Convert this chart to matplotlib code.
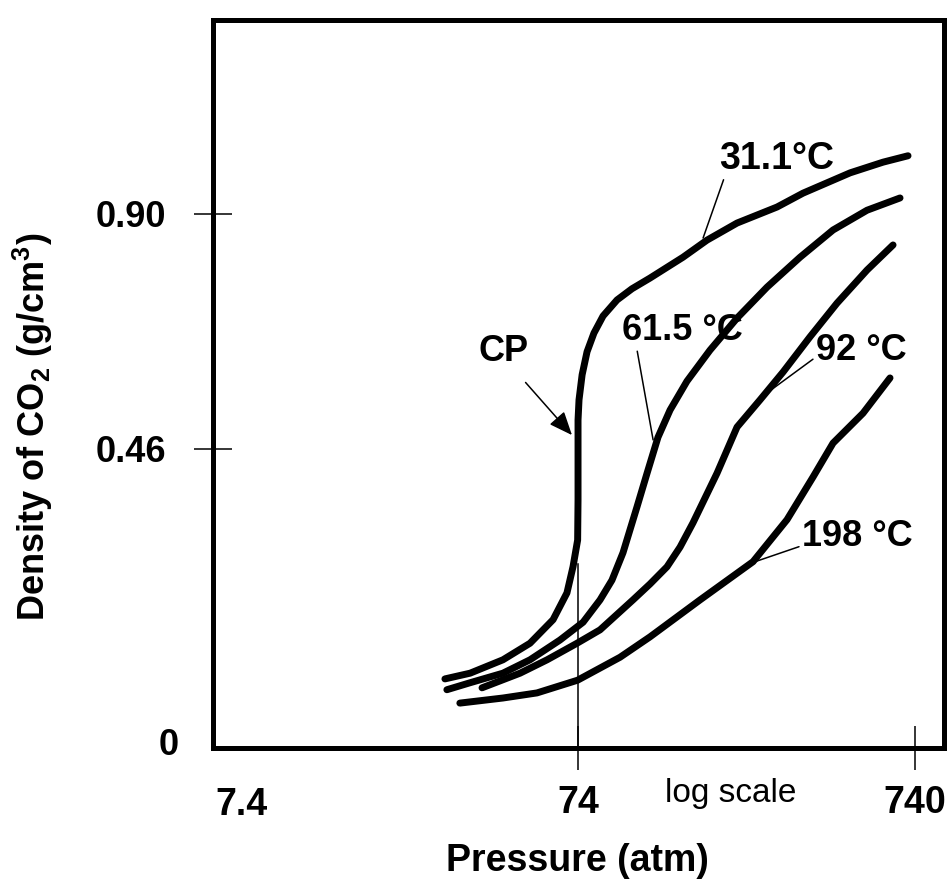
import numpy as np
import matplotlib.pyplot as plt

plt.rcParams['font.family'] = ['Liberation Sans', 'DejaVu Sans']
plt.rcParams['mathtext.fontset'] = 'custom'
plt.rcParams['mathtext.rm'] = 'Liberation Sans:bold'
plt.rcParams['mathtext.bf'] = 'Liberation Sans:bold'
plt.rcParams['mathtext.default'] = 'rm'

# isotherms: pressure (atm) and density (g/cm3)
p_311 = [29.8, 35.4, 44.3, 53.3, 62.4, 68.6, 71.5, 73.8, 74.0, 74.0, 74.0, 74.5, 76.1, 78.7,
         82.5, 87.8, 96.6, 107.0, 121.0, 151.6, 178.6, 219.3, 288.2, 344.3, 474.8, 594.6, 705.4]
d_311 = [0.099, 0.108, 0.129, 0.155, 0.192, 0.234, 0.275, 0.317, 0.380, 0.443, 0.514, 0.552, 0.599, 0.642,
         0.677, 0.709, 0.739, 0.760, 0.780, 0.819, 0.851, 0.883, 0.913, 0.939, 0.977, 0.997, 1.009]

p_615 = [30.2, 35.4, 44.3, 53.3, 65.4, 76.6, 86.0, 93.3, 100.6, 110.7, 118.6, 127.8, 138.8,
         155.8, 182.3, 219.3, 269.2, 337.3, 422.6, 533.1, 667.9]
d_615 = [0.082, 0.093, 0.108, 0.129, 0.160, 0.188, 0.223, 0.254, 0.297, 0.369, 0.422, 0.482, 0.533,
         0.587, 0.645, 0.705, 0.763, 0.819, 0.870, 0.907, 0.930]

p_92 = [38.4, 49.8, 59.9, 73.5, 86.0, 107.7, 121.0, 135.9, 148.6, 162.3, 191.3, 219.3, 256.7, 300.3,
        361.1, 434.2, 533.1, 636.8]
d_92 = [0.085, 0.108, 0.129, 0.155, 0.176, 0.223, 0.248, 0.275, 0.306, 0.344, 0.422, 0.501, 0.552, 0.604,
        0.670, 0.733, 0.795, 0.842]

p_198 = [33.0, 44.3, 55.9, 73.8, 98.6, 121.0, 170.3, 244.6, 308.6, 368.6, 422.6, 518.7, 623.7]
d_198 = [0.061, 0.069, 0.077, 0.097, 0.133, 0.165, 0.223, 0.283, 0.349, 0.416, 0.471, 0.527, 0.593]

x_ticks = [74, 740]
x_tick_labels = ['74', '740']
y_ticks = [0.46, 0.90]
y_tick_labels = ['0.46', '0.90']


# density axis is drawn stretched more below 0.46 than above it
def dens_to_h(d):
    d = np.asarray(d, dtype=float)
    return np.where(d < 0.46, 6 + d * 293 / 0.46, 299 + (d - 0.46) * 235 / 0.44)


def h_to_dens(h):
    h = np.asarray(h, dtype=float)
    return np.where(h < 299, (h - 6) * 0.46 / 293, 0.46 + (h - 299) * 0.44 / 235)


fig = plt.figure(figsize=(9.5, 8.88), dpi=100)
ax = fig.add_axes([0.2242, 0.1577, 0.7695, 0.8198])
ax.set_xscale('log')
ax.set_yscale('function', functions=(dens_to_h, h_to_dens))
ax.set_xlim(6.11, 902)
ax.set_ylim(float(h_to_dens(0)), float(h_to_dens(728)))

lw = 5
for p, d in [(p_311, d_311), (p_615, d_615), (p_92, d_92), (p_198, d_198)]:
    ax.plot(p, d, color='black', lw=lw, solid_capstyle='round', solid_joinstyle='round', zorder=3)

# tick at 74 atm runs up to the critical isotherm
ax.plot([74, 74], [ax.get_ylim()[0], 0.28], color='black', lw=1.1, zorder=2)

for sp in ax.spines.values():
    sp.set_linewidth(3.6)

ax.set_xticks(x_ticks, x_tick_labels)
ax.set_xticks([7.4], ['7.4'], minor=True)
ax.set_yticks(y_ticks, y_tick_labels)
ax.set_yticks([0], ['0'], minor=True)
ax.tick_params(axis='x', which='major', direction='inout', length=32, width=1.1, pad=11,
               labelsize=27)
ax.tick_params(axis='x', which='minor', length=0, pad=28, labelsize=27)
ax.tick_params(axis='y', which='major', direction='inout', length=27, width=1.1, pad=20,
               labelsize=26)
ax.tick_params(axis='y', which='minor', length=0, pad=25, labelsize=26)
for lab in ax.get_xticklabels(which='both') + ax.get_yticklabels(which='both'):
    lab.set_fontweight('bold')

ax.set_xlabel('Pressure (atm)', fontsize=27, fontweight='bold')
ax.xaxis.set_label_coords(0.498, -0.1305)
ax.set_ylabel(r'Density of CO$_2$ (g/cm$^3$)', fontsize=26, fontweight='bold')
ax.yaxis.set_label_coords(-0.216, 0.441)

ax.text(210.5, -0.062, 'log scale', transform=ax.get_xaxis_transform(), ha='center', va='center',
        fontsize=24)

leader = dict(arrowstyle='-', lw=1.1, color='black', shrinkA=0, shrinkB=0)
ax.annotate('31.1°C', xy=(173.9, 0.855), xytext=(288, 1.003), ha='center', va='center',
            fontsize=27, fontweight='bold', arrowprops=dict(leader, relpos=(0.05, 0.05)))
ax.annotate('61.5 °C', xy=(123.6, 0.477), xytext=(150.6, 0.681), ha='center', va='center',
            fontsize=26, fontweight='bold', arrowprops=dict(leader, relpos=(0.125, 0.0)))
ax.annotate('92 °C', xy=(269.2, 0.565), xytext=(511.7, 0.645), ha='center', va='center',
            fontsize=26, fontweight='bold', arrowprops=dict(leader, relpos=(0.0, 0.3)))
ax.annotate('198 °C', xy=(248.0, 0.283), xytext=(498.0, 0.323), ha='center', va='center',
            fontsize=26, fontweight='bold', arrowprops=dict(leader, relpos=(0.02, 0.25)))
ax.annotate('CP', xy=(71.0, 0.486), xytext=(44.6, 0.642), ha='center', va='center',
            fontsize=26, fontweight='bold',
            arrowprops=dict(arrowstyle='-|>,head_length=0.72,head_width=0.3', mutation_scale=20,
                            lw=1.1, color='black', shrinkA=10, shrinkB=0, relpos=(0.7, 0.0)))

fig.savefig('out.png', dpi=100)
